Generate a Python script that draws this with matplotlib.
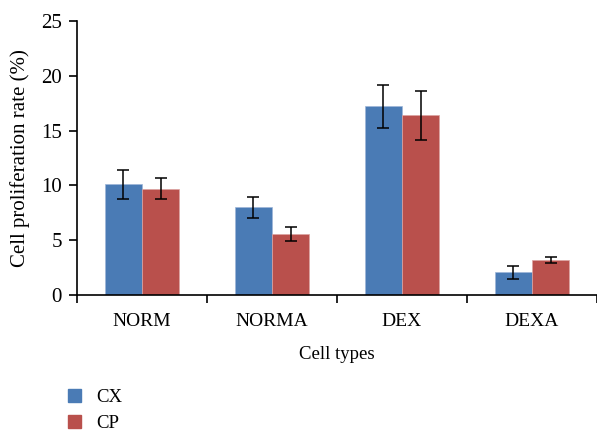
import matplotlib
matplotlib.use("Agg")
import matplotlib.pyplot as plt
from matplotlib.patches import Patch
import numpy as np

categories = ["NORM", "NORMA", "DEX", "DEXA"]
cx_values = [10.1, 8.0, 17.2, 2.1]
cx_errors = [1.3, 0.95, 2.0, 0.6]
cp_values = [9.7, 5.6, 16.4, 3.2]
cp_errors = [0.95, 0.65, 2.25, 0.28]
y_ticks = [0, 5, 10, 15, 20, 25]

blue = "#4A7BB5"
red = "#B9504C"

plt.rcParams["font.family"] = ["Liberation Serif", "DejaVu Serif"]

fig = plt.figure(figsize=(5.97, 4.36), dpi=100)
ax = fig.add_axes([0.129, 0.323, 0.871, 0.629])

x = np.arange(len(categories))
w = 0.285
err_kw = dict(ecolor="black", capsize=4.5, elinewidth=1.1, capthick=1.1)
ax.bar(x - w / 2, cx_values, w, yerr=cx_errors, color=blue,
       edgecolor="#9db6d8", linewidth=0.5, error_kw=err_kw, label="CX")
ax.bar(x + w / 2, cp_values, w, yerr=cp_errors, color=red,
       edgecolor="#dca3a1", linewidth=0.5, error_kw=err_kw, label="CP")

ax.set_xlim(-0.5, len(categories) - 0.5)
ax.set_ylim(0, 25)
ax.set_yticks(y_ticks)
ax.set_xticks(x)
ax.set_xticklabels(categories)
ax.set_xticks(np.arange(len(categories) + 1) - 0.5, minor=True)
ax.tick_params(axis="x", which="major", length=0, pad=13, labelsize=14)
ax.tick_params(axis="x", which="minor", length=6, width=1.2, direction="out")
ax.tick_params(axis="y", length=6, width=1.2, labelsize=15, pad=5)

for s in ["top", "right"]:
    ax.spines[s].set_visible(False)
for s in ["left", "bottom"]:
    ax.spines[s].set_linewidth(1.2)

ax.set_xlabel("Cell types", fontsize=13.5, labelpad=11)
ax.set_ylabel("Cell proliferation rate (%)", fontsize=15, labelpad=8)

handles = [Patch(color=blue, label="CX"), Patch(color=red, label="CP")]
fig.legend(handles=handles, loc="lower left", bbox_to_anchor=(0.085, -0.03),
           frameon=False, fontsize=13.5, handlelength=0.7, handleheight=0.7,
           handletextpad=0.85, labelspacing=0.5)

fig.savefig("out.png", dpi=100)
